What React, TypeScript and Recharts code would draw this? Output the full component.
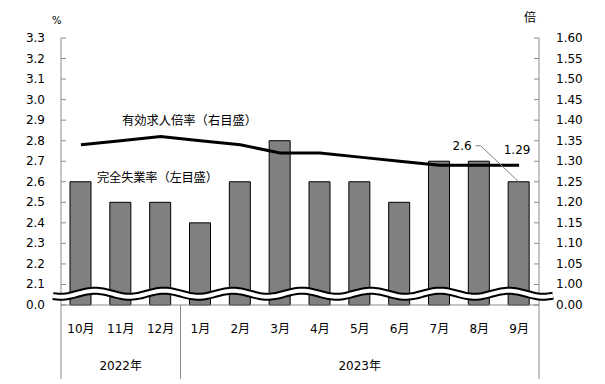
import React from "react";
import { ComposedChart, Bar, Line, XAxis, YAxis, ReferenceArea, LabelList, Customized } from "recharts";

const months = ["10月", "11月", "12月", "1月", "2月", "3月", "4月", "5月", "6月", "7月", "8月", "9月"];
const unemployment = [2.6, 2.5, 2.5, 2.4, 2.6, 2.8, 2.6, 2.6, 2.5, 2.7, 2.7, 2.6];
const jobRatio = [1.34, 1.35, 1.36, 1.35, 1.34, 1.32, 1.32, 1.31, 1.30, 1.29, 1.29, 1.29];
const years = [{ index: 1, label: "2022年" }, { index: 7, label: "2023年" }];
const yearStarts = [0, 3];
const leftTicks = [2.0, 2.1, 2.2, 2.3, 2.4, 2.5, 2.6, 2.7, 2.8, 2.9, 3.0, 3.1, 3.2, 3.3];
const rightTicks = [0.95, 1.0, 1.05, 1.1, 1.15, 1.2, 1.25, 1.3, 1.35, 1.4, 1.45, 1.5, 1.55, 1.6];

const data = months.map((m, i) => ({ month: m, rate: unemployment[i], ratio: jobRatio[i] }));

const W = 605;
const H = 384;
const LEFT = 61;
const RIGHT = 66;
const TOP = 38;
const BOTTOM = 79;
const BAND = (W - LEFT - RIGHT) / months.length;
const FONT = '"DejaVu Sans", "Noto Sans CJK JP", sans-serif';
const CJK = '"Noto Sans CJK JP", sans-serif';
const AXIS = "#8c8c8c";

const LeftTick = (props: any) => {
  const { x, y, payload, index } = props;
  const label = index === 0 ? "0.0" : payload.value.toFixed(1);
  return (
    <g>
      <line x1={x} x2={x + 5} y1={y} y2={y} stroke={AXIS} />
      <text x={x - 16} y={y} dy={4} textAnchor="end" fontSize={12} fontFamily={FONT} fill="#000">{label}</text>
    </g>
  );
};

const RightTick = (props: any) => {
  const { x, y, payload, index } = props;
  const label = index === 0 ? "0.00" : payload.value.toFixed(2);
  return (
    <g>
      <line x1={x - 5} x2={x} y1={y} y2={y} stroke={AXIS} />
      <text x={x + 17} y={y} dy={4} textAnchor="start" fontSize={12} fontFamily={FONT} fill="#000">{label}</text>
    </g>
  );
};

const MonthTick = (props: any) => {
  const { x, y, payload, index } = props;
  const year = years.find((d) => d.index === index);
  const edge = x - BAND / 2;
  return (
    <g>
      <text x={x} y={y + 28} textAnchor="middle" fontSize={12} fontFamily={FONT} fill="#000">{payload.value}</text>
      {year && (
        <text x={x} y={y + 65} textAnchor="middle" fontSize={12} fontFamily={FONT} fill="#000">{year.label}</text>
      )}
      {yearStarts.includes(index) && <line x1={edge} x2={edge} y1={y} y2={y + 74} stroke={AXIS} />}
      {index === months.length - 1 && <line x1={x + BAND / 2} x2={x + BAND / 2} y1={y} y2={y + 74} stroke={AXIS} />}
    </g>
  );
};

// axis break drawn as a wavy white band
const WaveBreak = (props: any) => {
  const { x, y, width, height } = props;
  const cy = y + height / 2 - 1;
  const x0 = x - 8;
  const x1 = x + width + 14;
  const pts: string[] = [];
  for (let px = x0; px <= x1; px += 2) {
    const py = cy - 3 * Math.cos((2 * Math.PI * (px - (x + 34))) / 69);
    pts.push(`${px},${py.toFixed(2)}`);
  }
  const d = "M" + pts.join(" L");
  return (
    <g>
      <path d={d} fill="none" stroke="#000" strokeWidth={8} />
      <path d={d} fill="none" stroke="#fff" strokeWidth={4} />
    </g>
  );
};

const RateLabel = (props: any) => {
  const { x, y, width, index, value } = props;
  if (index !== months.length - 1) return null;
  const cx = x + width / 2;
  return (
    <g>
      <polyline points={`${cx - 43},${y - 36} ${cx - 38},${y - 36} ${cx},${y}`} fill="none" stroke="#808080" strokeWidth={1} />
      <text x={cx - 47} y={y - 32} textAnchor="end" fontSize={12} fontFamily={FONT} fill="#000">{value.toFixed(1)}</text>
    </g>
  );
};

const RatioLabel = (props: any) => {
  const { x, y, index, value } = props;
  if (index !== months.length - 1) return null;
  return (
    <text x={x - 2} y={y - 11} textAnchor="middle" fontSize={12} fontFamily={FONT} fill="#000">{value.toFixed(2)}</text>
  );
};

const Notes = () => (
  <g fontSize={12.3} fontFamily={CJK} fill="#000">
    <text x={122} y={125} textLength={135} lengthAdjust="spacing">有効求人倍率（右目盛）</text>
    <text x={97} y={182} textLength={121} lengthAdjust="spacing">完全失業率（左目盛）</text>
    <text x={52} y={24} fontSize={10} fontFamily={FONT}>%</text>
    <text x={524} y={22} fontSize={12}>倍</text>
  </g>
);

export default function App() {
  return (
    <div style={{ position: "absolute", left: 0, top: 0, width: W, height: H, background: "#fff" }}>
      <ComposedChart width={W} height={H} data={data} margin={{ top: TOP, right: 0, bottom: 0, left: 0 }} barSize={21}>
        <XAxis dataKey="month" height={BOTTOM} stroke={AXIS} tickLine={false} tickSize={0} tickMargin={0} tick={<MonthTick />} interval={0} />
        <YAxis yAxisId="left" orientation="left" width={LEFT} domain={[2.0, 3.3]} ticks={leftTicks} stroke={AXIS} tickLine={false} tickSize={0} tickMargin={0} tick={<LeftTick />} interval={0} />
        <YAxis yAxisId="right" orientation="right" width={RIGHT} domain={[0.95, 1.6]} ticks={rightTicks} stroke={AXIS} tickLine={false} tickSize={0} tickMargin={0} tick={<RightTick />} interval={0} />
        <Bar yAxisId="left" dataKey="rate" fill="#808080" stroke="#000" strokeWidth={1} isAnimationActive={false}>
          <LabelList dataKey="rate" content={<RateLabel />} />
        </Bar>
        <Line yAxisId="right" type="linear" dataKey="ratio" stroke="#000" strokeWidth={3} dot={false} isAnimationActive={false}>
          <LabelList dataKey="ratio" content={<RatioLabel />} />
        </Line>
        <ReferenceArea yAxisId="left" y1={2.0} y2={2.1} shape={<WaveBreak />} ifOverflow="visible" zIndex={1500} />
        <Customized component={<Notes />} />
      </ComposedChart>
    </div>
  );
}
